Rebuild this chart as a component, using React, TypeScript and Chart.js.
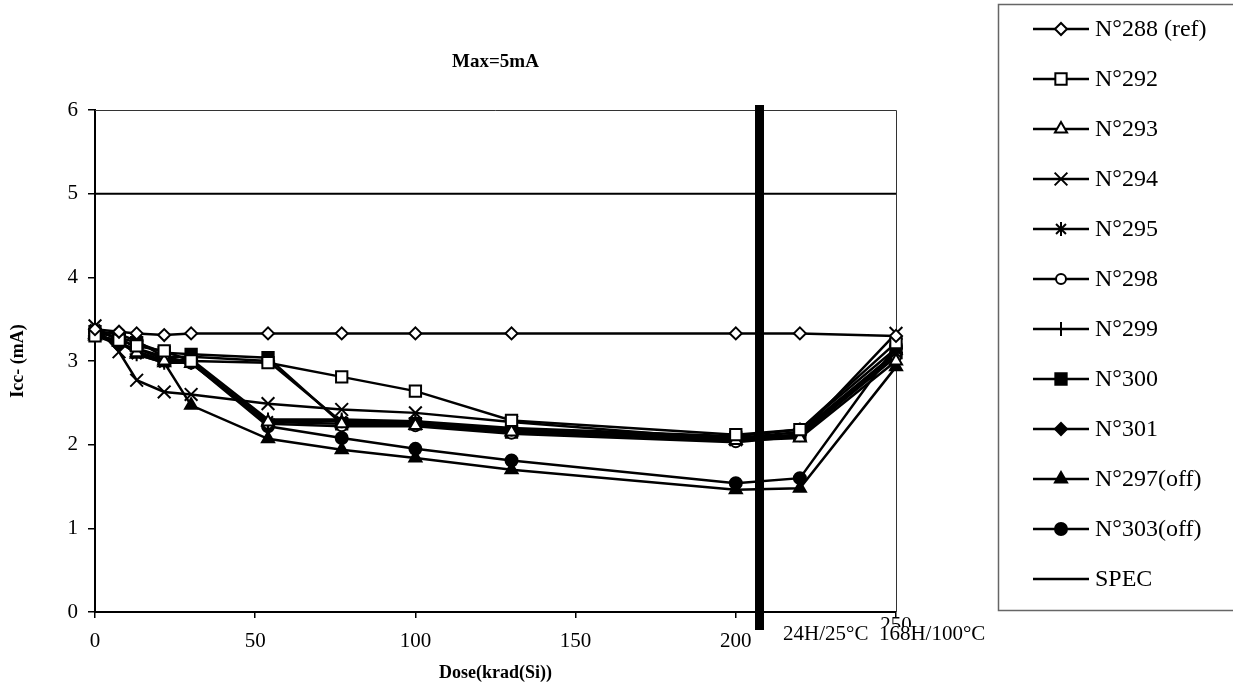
import React, { useEffect, useRef } from 'react';
import { Chart, registerables } from 'chart.js';
import { drawPoint } from 'chart.js/helpers';

Chart.register(...registerables);

// ---- data ----
const doses = [0, 7.5, 13, 21.6, 30, 54, 77, 100, 130, 200, 220, 250];
const n288 = [3.38, 3.35, 3.33, 3.31, 3.33, 3.33, 3.33, 3.33, 3.33, 3.33, 3.33, 3.30];
const n292 = [3.30, 3.25, 3.18, 3.12, 3.00, 2.98, 2.81, 2.64, 2.29, 2.12, 2.18, 3.22];
const n293 = [3.32, 3.22, 3.10, 3.00, 2.97, 2.27, 2.25, 2.23, 2.15, 2.05, 2.08, 3.00];
const n294 = [3.42, 3.11, 2.77, 2.63, 2.60, 2.49, 2.42, 2.38, 2.27, 2.06, 2.12, 3.33];
const n295 = [3.38, 3.25, 3.08, 2.98, 2.98, 2.28, 2.28, 2.27, 2.18, 2.08, 2.15, 3.10];
const n298 = [3.35, 3.28, 3.15, 3.02, 3.00, 2.25, 2.22, 2.22, 2.13, 2.03, 2.10, 3.05];
const n299 = [3.33, 3.22, 3.12, 3.00, 3.02, 2.30, 2.30, 2.28, 2.20, 2.10, 2.18, 3.15];
const n300 = [3.35, 3.28, 3.22, 3.10, 3.08, 3.04, 2.25, 2.25, 2.15, 2.08, 2.12, 3.10];
const n301 = [3.30, 3.20, 3.15, 3.05, 3.05, 3.00, 2.27, 2.24, 2.17, 2.05, 2.12, 3.08];
const n297 = [3.30, 3.24, 3.08, 2.98, 2.47, 2.07, 1.94, 1.84, 1.70, 1.46, 1.48, 2.93];
const n303 = [3.36, 3.32, 3.24, 3.05, 2.98, 2.22, 2.08, 1.95, 1.81, 1.54, 1.60, 3.18];
const specDoses = [0, 250];
const specValues = [5, 5];
const xTicks = [0, 50, 100, 150, 200, 250];
const yTicks = [0, 1, 2, 3, 4, 5, 6];
const barDose = 207.4;
const titleText = 'Max=5mA';
const xTitle = 'Dose(krad(Si))';
const yTitle = 'Icc- (mA)';
const annealText = '24H/25°C  168H/100°C';

const seriesLabels = [
  'N°288 (ref)', 'N°292', 'N°293', 'N°294', 'N°295', 'N°298', 'N°299',
  'N°300', 'N°301', 'N°297(off)', 'N°303(off)',
];
const seriesValues = [n288, n292, n293, n294, n295, n298, n299, n300, n301, n297, n303];

// ---- styles ----
const markerStyles: { style: string; r: number; fill: string }[] = [
  { style: 'rectRot', r: 6, fill: '#fff' },
  { style: 'rect', r: 8, fill: '#fff' },
  { style: 'triangle', r: 7, fill: '#fff' },
  { style: 'crossRot', r: 9, fill: '#000' },
  { style: 'star', r: 7, fill: '#000' },
  { style: 'circle', r: 5, fill: '#fff' },
  { style: 'cross', r: 7, fill: '#000' },
  { style: 'rect', r: 8, fill: '#000' },
  { style: 'rectRot', r: 6, fill: '#000' },
  { style: 'triangle', r: 7, fill: '#000' },
  { style: 'circle', r: 6, fill: '#000' },
];

const SERIF = "'Liberation Serif', 'Times New Roman', serif";

export default function App() {
  const ref = useRef<HTMLCanvasElement>(null);

  useEffect(() => {
    const canvas = ref.current!;
    const datasets: any[] = seriesLabels.map((label, i) => ({
      label,
      data: doses.map((d, j) => ({ x: d, y: seriesValues[i][j] })),
      borderColor: '#000',
      borderWidth: 2.5,
      pointStyle: markerStyles[i].style,
      pointRadius: markerStyles[i].r,
      pointBackgroundColor: markerStyles[i].fill,
      pointBorderColor: '#000',
      pointBorderWidth: 2,
      fill: false,
      tension: 0,
      clip: false,
    }));
    datasets.push({
      label: 'SPEC',
      data: specDoses.map((d, j) => ({ x: d, y: specValues[j] })),
      borderColor: '#000',
      borderWidth: 2,
      pointRadius: 0,
      fill: false,
      tension: 0,
      clip: false,
    });

    const decor = {
      id: 'decor',
      beforeDatasetsDraw(chart: any) {
        const { ctx, chartArea: a } = chart;
        ctx.save();
        ctx.strokeStyle = '#333';
        ctx.lineWidth = 1;
        ctx.beginPath();
        ctx.moveTo(a.left, a.top + 0.5);
        ctx.lineTo(a.right + 0.5, a.top + 0.5);
        ctx.lineTo(a.right + 0.5, a.bottom);
        ctx.stroke();
        ctx.restore();
      },
      afterDatasetsDraw(chart: any) {
        const { ctx, chartArea: a } = chart;
        const bx = chart.scales.x.getPixelForValue(barDose);
        ctx.save();
        ctx.fillStyle = '#000';
        ctx.fillRect(bx - 4.5, a.top - 5, 9, a.bottom - a.top + 23);
        ctx.restore();
      },
      afterDraw(chart: any) {
        const { ctx, chartArea: a } = chart;
        const xs = chart.scales.x;
        const cx = (a.left + a.right) / 2;
        ctx.save();
        ctx.fillStyle = '#000';
        // title
        ctx.font = `bold 19px ${SERIF}`;
        ctx.textAlign = 'center';
        ctx.textBaseline = 'middle';
        ctx.fillText(titleText, cx, 62);
        // x title
        ctx.font = `bold 18px ${SERIF}`;
        ctx.fillText(xTitle, cx, 673);
        // y title
        ctx.save();
        ctx.translate(18, (a.top + a.bottom) / 2);
        ctx.rotate(-Math.PI / 2);
        ctx.fillText(yTitle, 0, 0);
        ctx.restore();
        // 250 label partially hidden by annotation text
        ctx.font = `21px ${SERIF}`;
        ctx.fillText(String(xTicks[xTicks.length - 1]), xs.getPixelForValue(250), 625);
        ctx.fillStyle = '#fff';
        ctx.fillRect(778, 627, 214, 20);
        ctx.fillStyle = '#000';
        ctx.textAlign = 'left';
        ctx.fillText(annealText, 783, 634);

        // legend
        const lx = 998;
        ctx.strokeStyle = '#666';
        ctx.lineWidth = 1.5;
        ctx.strokeRect(lx + 0.5, 4.5, 300, 606);
        ctx.font = `24px ${SERIF}`;
        ctx.textAlign = 'left';
        ctx.textBaseline = 'middle';
        chart.data.datasets.forEach((ds: any, i: number) => {
          const y = 29 + i * 50;
          ctx.strokeStyle = '#000';
          ctx.lineWidth = 2.5;
          ctx.beginPath();
          ctx.moveTo(1033, y);
          ctx.lineTo(1089, y);
          ctx.stroke();
          if (ds.pointRadius > 0) {
            ctx.fillStyle = ds.pointBackgroundColor;
            ctx.strokeStyle = '#000';
            ctx.lineWidth = 2;
            drawPoint(ctx, { pointStyle: ds.pointStyle, radius: ds.pointRadius, rotation: 0, borderWidth: 2 } as any, 1061, y);
          }
          ctx.fillStyle = '#000';
          ctx.fillText(ds.label, 1095, y + 1);
        });
        ctx.restore();
      },
    };

    const tickFont = { family: SERIF, size: 21 };
    const chart = new Chart(canvas, {
      type: 'line',
      data: { datasets },
      options: {
        animation: false,
        responsive: false,
        layout: { padding: { top: 110, right: 337, left: 0, bottom: 0 } },
        plugins: {
          legend: { display: false },
          title: { display: false },
          tooltip: { enabled: false },
        },
        scales: {
          x: {
            type: 'linear',
            min: 0,
            max: 250,
            afterBuildTicks: (s: any) => { s.ticks = xTicks.map((v) => ({ value: v })); },
            afterFit: (s: any) => { s.height = 85; },
            ticks: {
              font: tickFont,
              color: '#000',
              padding: 11,
              maxRotation: 0,
              autoSkip: false,
              callback: (v: any) => (v === 250 ? '' : String(v)),
            },
            grid: { drawOnChartArea: false, drawTicks: true, tickLength: 6, color: '#000', lineWidth: 1.5 },
            border: { color: '#000', width: 2 },
          },
          y: {
            type: 'linear',
            min: 0,
            max: 6,
            afterBuildTicks: (s: any) => { s.ticks = yTicks.map((v) => ({ value: v })); },
            afterFit: (s: any) => { s.width = 95; },
            ticks: { font: tickFont, color: '#000', padding: 10, callback: (v: any) => String(v) },
            grid: { drawOnChartArea: false, drawTicks: true, tickLength: 7, color: '#000', lineWidth: 1.5 },
            border: { color: '#000', width: 2 },
          },
        },
      },
      plugins: [decor],
    } as any);
    return () => chart.destroy();
  }, []);

  return (
    <div style={{ position: 'absolute', left: 0, top: 0, width: 1233, height: 697, background: '#fff' }}>
      <canvas ref={ref} width={1233} height={697} style={{ display: 'block' }} />
    </div>
  );
}
